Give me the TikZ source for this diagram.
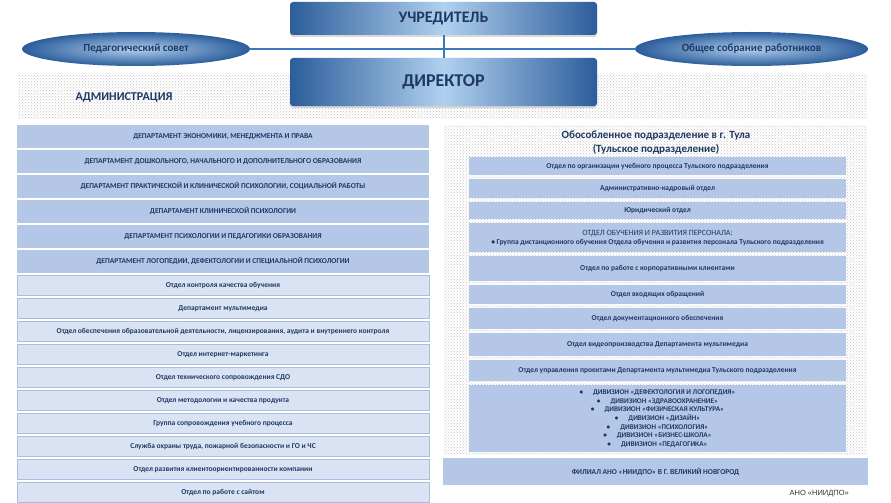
\documentclass[tikz,border=0pt]{standalone}
\usepackage{fontspec}
\setmainfont{Carlito}
\newfontfamily\anofont{Liberation Sans}
\usetikzlibrary{positioning,patterns,shadows,shapes.geometric}
\definecolor{Navy}{HTML}{1F3864}
\definecolor{DeptFill}{HTML}{B4C7E7}
\definecolor{UnitFill}{HTML}{DAE3F3}
\definecolor{UnitLine}{HTML}{A9BDE1}
\definecolor{HeadDark}{HTML}{2C5D9B}
\definecolor{HeadLight}{HTML}{B0D0EE}
\definecolor{Wire}{HTML}{3A78C0}
\definecolor{DotGrey}{HTML}{C4C4C4}

\begin{document}
\begin{tikzpicture}[x=1pt,y=-1pt,
    panel/.style={fill=white,postaction={pattern=crosshatch dots,pattern color=DotGrey},
      inner sep=0pt},
    head/.style={rounded corners=3pt,minimum width=307pt,inner sep=0pt,
      left color=HeadDark,right color=HeadDark,middle color=HeadLight,
      text=Navy,font=\bfseries\fontsize{16}{18}\selectfont,
      drop shadow={shadow xshift=0pt,shadow yshift=-2pt,opacity=.3}},
    council/.style={ellipse,inner sep=0pt,minimum height=34pt,
      inner color=HeadLight,outer color=HeadDark,
      text=Navy,font=\bfseries\fontsize{11}{12}\selectfont},
    dept/.style={fill=DeptFill,minimum width=412pt,minimum height=22.6pt,inner sep=0pt,
      align=center,text=Navy,font=\bfseries\fontsize{7.5}{9}\selectfont},
    unit/.style={dept,fill=UnitFill,draw=UnitLine,line width=0.8pt,minimum height=20.2pt},
    tulaunit/.style={dept,minimum width=377pt}
  ]
  \useasboundingbox (0,0) rectangle (891,503);

  % administration band behind the director
  \node[panel,minimum width=849pt,minimum height=45pt] (band) at (442.5,95.5) {};
  \node[text=Navy,font=\bfseries\fontsize{12}{13}\selectfont] (admin) at (124,97) {АДМИНИСТРАЦИЯ};

  % councils and the wires
  \node[council,minimum width=228pt] (pedsovet) at (136,49) {Педагогический совет};
  \node[council,minimum width=233pt] (sobranie) at (751.5,49) {Общее собрание работников};
  \draw[Wire,line width=2pt] (pedsovet.east) -- (sobranie.west);

  \node[head,minimum height=33pt] (founder) at (443.5,18.5) {УЧРЕДИТЕЛЬ};
  \node[head,minimum height=48pt,font=\bfseries\fontsize{18}{20}\selectfont] (director) at (443.5,82) {ДИРЕКТОР};
  \draw[Wire,line width=2pt] (founder.south) -- (director.north);

  % left column
  \node[dept,anchor=north] (econ) at (223,125) {ДЕПАРТАМЕНТ ЭКОНОМИКИ, МЕНЕДЖМЕНТА И ПРАВА};
  \node[dept,below=2pt of econ] (preschool) {ДЕПАРТАМЕНТ ДОШКОЛЬНОГО, НАЧАЛЬНОГО И ДОПОЛНИТЕЛЬНОГО ОБРАЗОВАНИЯ};
  \node[dept,below=2pt of preschool] (practpsy) {ДЕПАРТАМЕНТ ПРАКТИЧЕСКОЙ И КЛИНИЧЕСКОЙ ПСИХОЛОГИИ, СОЦИАЛЬНОЙ РАБОТЫ};
  \node[dept,below=2pt of practpsy] (clinpsy) {ДЕПАРТАМЕНТ КЛИНИЧЕСКОЙ ПСИХОЛОГИИ};
  \node[dept,below=2pt of clinpsy] (pedpsy) {ДЕПАРТАМЕНТ ПСИХОЛОГИИ И ПЕДАГОГИКИ ОБРАЗОВАНИЯ};
  \node[dept,below=2pt of pedpsy] (logoped) {ДЕПАРТАМЕНТ ЛОГОПЕДИИ, ДЕФЕКТОЛОГИИ И СПЕЦИАЛЬНОЙ ПСИХОЛОГИИ};
  \node[unit,below=2pt of logoped] (quality) {Отдел контроля качества обучения};
  \node[unit,below=2pt of quality] (media) {Департамент мультимедиа};
  \node[unit,below=2pt of media] (license) {Отдел обеспечения образовательной деятельности, лицензирования, аудита и внутреннего контроля};
  \node[unit,below=2pt of license] (marketing) {Отдел интернет-маркетинга};
  \node[unit,below=2pt of marketing] (sdo) {Отдел технического сопровождения СДО};
  \node[unit,below=2pt of sdo] (method) {Отдел методологии и качества продукта};
  \node[unit,below=2pt of method] (support) {Группа сопровождения учебного процесса};
  \node[unit,below=2pt of support] (safety) {Служба охраны труда, пожарной безопасности и ГО и ЧС};
  \node[unit,below=2pt of safety] (clients) {Отдел развития клиентоориентированности компании};
  \node[unit,below=2pt of clients] (website) {Отдел по работе с сайтом};

  % Tula branch
  \node[panel,minimum width=423pt,minimum height=329pt] (tula) at (655.5,289.5) {};
  \node[align=center,text=Navy,font=\bfseries\fontsize{11}{14}\selectfont] (tulatitle) at (656,142.5)
    {Обособленное подразделение в г. Тула\\(Тульское подразделение)};
  \node[tulaunit,minimum height=18pt,anchor=north] (tprocess) at (657.5,157) {Отдел по организации учебного процесса Тульского подразделения};
  \node[tulaunit,minimum height=19pt,below=3.6pt of tprocess] (tstaff) {Административно-кадровый отдел};
  \node[tulaunit,minimum height=17pt,below=3.6pt of tstaff] (tlegal) {Юридический отдел};
  \node[tulaunit,minimum height=29pt,below=3.6pt of tlegal,font=\fontsize{8}{9}\selectfont] (ttraining)
    {ОТДЕЛ ОБУЧЕНИЯ И РАЗВИТИЯ ПЕРСОНАЛА:\\
     {\bfseries\fontsize{7.5}{9}\selectfont\textbullet\ Группа дистанционного обучения Отдела обучения и развития персонала Тульского подразделения}};
  \node[tulaunit,minimum height=25pt,below=3.6pt of ttraining] (tcorp) {Отдел по работе с корпоративными клиентами};
  \node[tulaunit,minimum height=19pt,below=3.6pt of tcorp] (tincoming) {Отдел входящих обращений};
  \node[tulaunit,minimum height=21pt,below=3.6pt of tincoming] (tdocs) {Отдел документационного обеспечения};
  \node[tulaunit,minimum height=23pt,below=3.6pt of tdocs] (tvideo) {Отдел видеопроизводства Департамента мультимедиа};
  \node[tulaunit,minimum height=21pt,below=3.6pt of tvideo] (tprojects) {Отдел управления проектами Департамента мультимедиа Тульского подразделения};
  \node[tulaunit,minimum height=67pt,below=3.6pt of tprojects,font=\bfseries\fontsize{7.2}{8.7}\selectfont] (tdivisions)
    {\textbullet\hspace{10pt}ДИВИЗИОН «ДЕФЕКТОЛОГИЯ И ЛОГОПЕДИЯ»\\
     \textbullet\hspace{10pt}ДИВИЗИОН «ЗДРАВООХРАНЕНИЕ»\\
     \textbullet\hspace{10pt}ДИВИЗИОН «ФИЗИЧЕСКАЯ КУЛЬТУРА»\\
     \textbullet\hspace{10pt}ДИВИЗИОН «ДИЗАЙН»\\
     \textbullet\hspace{10pt}ДИВИЗИОН «ПСИХОЛОГИЯ»\\
     \textbullet\hspace{10pt}ДИВИЗИОН «БИЗНЕС-ШКОЛА»\\
     \textbullet\hspace{10pt}ДИВИЗИОН «ПЕДАГОГИКА»};

  \node[dept,minimum width=425pt,minimum height=27pt,below=4pt of tula] (novgorod) {ФИЛИАЛ АНО «НИИДПО» В Г. ВЕЛИКИЙ НОВГОРОД};
  \node[anchor=east,inner sep=0pt,text=black!80,font=\anofont\fontsize{7.5}{9}\selectfont] (ano) at (849,494) {АНО «НИИДПО»};
\end{tikzpicture}
\end{document}
